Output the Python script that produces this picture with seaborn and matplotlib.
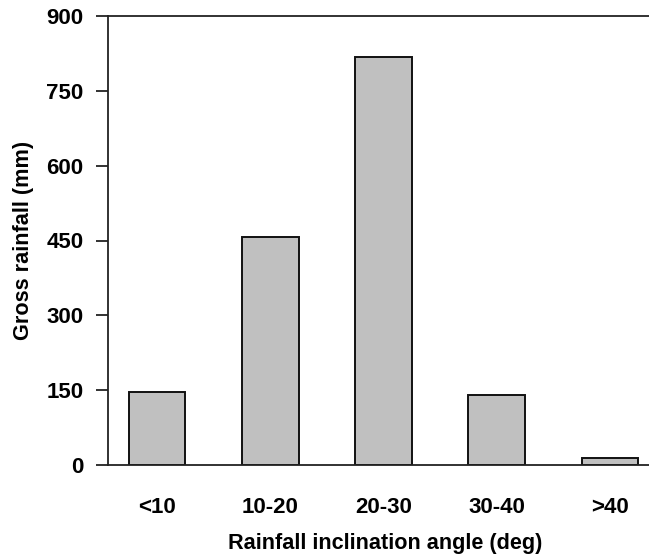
import matplotlib
matplotlib.use("Agg")
import matplotlib.pyplot as plt
import seaborn as sns
import pandas as pd

# Gross rainfall per inclination-angle class
angle_classes = ["<10", "10-20", "20-30", "30-40", ">40"]
gross_rainfall = [147, 457, 818, 140, 15]
y_ticks = [0, 150, 300, 450, 600, 750, 900]

sns.set_theme(style="white")
plt.rcParams["font.family"] = ["Liberation Sans", "DejaVu Sans"]
plt.rcParams["font.weight"] = "bold"

df = pd.DataFrame({"angle": angle_classes, "rain": gross_rainfall})

fig = plt.figure(figsize=(6.49, 5.57), dpi=100)
ax = fig.add_axes([108 / 649, 92 / 557, 1 - 108 / 649, 449 / 557])

sns.barplot(data=df, x="angle", y="rain", order=angle_classes, color="#c0c0c0",
            saturation=1, width=0.5, edgecolor="#111111", linewidth=1.4, ax=ax)

ax.set_xlim(-0.433, 4.345)
ax.set_ylim(0, 900)
ax.set_yticks(y_ticks)
ax.set_yticklabels([str(v) for v in y_ticks])

for side in ["left", "bottom", "top"]:
    ax.spines[side].set_visible(True)
    ax.spines[side].set_color("#222222")
    ax.spines[side].set_linewidth(1.3)
ax.spines["right"].set_visible(False)

ax.tick_params(axis="y", direction="out", length=8.6, width=1.3, color="#222222",
               pad=9, labelsize=16, left=True)
ax.tick_params(axis="x", length=0, pad=23, labelsize=16)
for lbl in ax.get_xticklabels() + ax.get_yticklabels():
    lbl.set_fontweight("bold")
    lbl.set_color("black")

ax.set_xlabel("Rainfall inclination angle (deg)", fontsize=15.6, fontweight="bold",
              color="black")
ax.xaxis.set_label_coords(0.513, -0.151)
ax.set_ylabel("Gross rainfall (mm)", fontsize=15.6, fontweight="bold",
              color="black")
ax.yaxis.set_label_coords(-0.137, 0.5)

fig.savefig("out.png", dpi=100)
